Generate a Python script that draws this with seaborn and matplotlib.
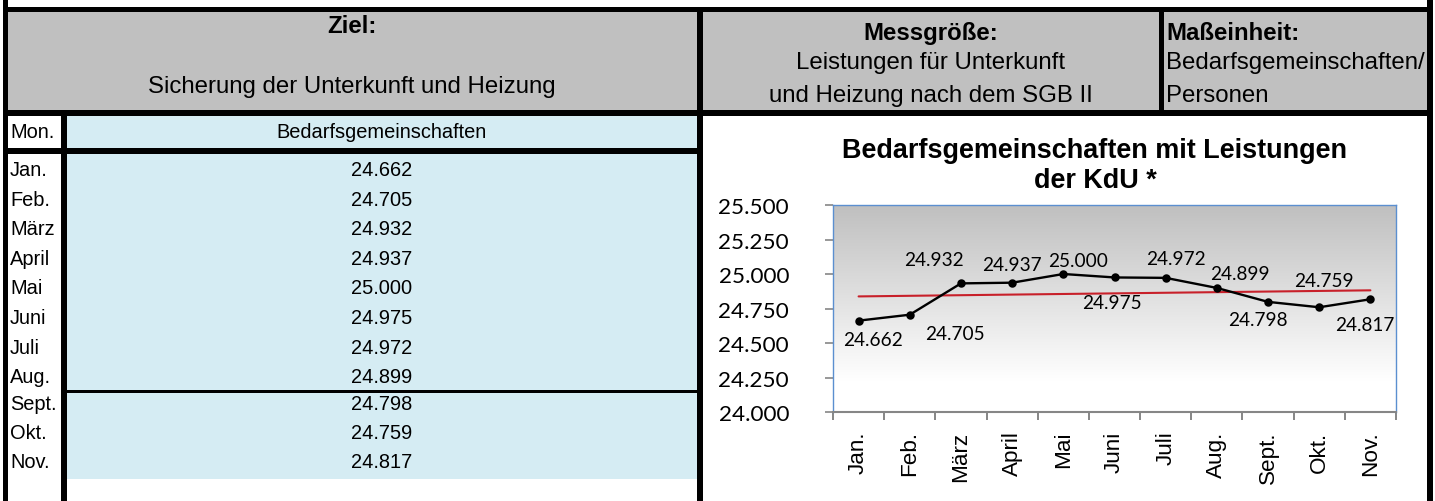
import numpy as np
import pandas as pd
import matplotlib
matplotlib.use("Agg")
import matplotlib.pyplot as plt
from matplotlib.patches import Rectangle
from matplotlib.ticker import FuncFormatter
import seaborn as sns

# --- data -------------------------------------------------------------------
months = ["Jan.", "Feb.", "März", "April", "Mai", "Juni", "Juli", "Aug.", "Sept.", "Okt.", "Nov."]
values = [24662, 24705, 24932, 24937, 25000, 24975, 24972, 24899, 24798, 24759, 24817]
y_ticks = [24000, 24250, 24500, 24750, 25000, 25250, 25500]

goal_title = "Ziel:"
goal_text = "Sicherung der Unterkunft und Heizung"
measure_title = "Messgröße:"
measure_text = ["Leistungen für Unterkunft", "und Heizung nach dem SGB II"]
unit_title = "Maßeinheit:"
unit_text = ["Bedarfsgemeinschaften/", "Personen"]
col_month = "Mon."
col_value = "Bedarfsgemeinschaften"
chart_title = "Bedarfsgemeinschaften mit Leistungen\nder KdU *"

# data label offsets in pixels (dx right, dy up)
label_offsets = [(14, -19), (45, -19), (-27, 24), (0, 18), (15, 14), (-3, -25),
                 (10, 19), (23, 14), (-10, -18), (5, 27), (-6, -25)]

sns.set_style("white")
plt.rcParams["font.family"] = ["Liberation Sans", "DejaVu Sans"]
plt.rcParams["text.color"] = "black"
plt.rcParams["xtick.labelcolor"] = "black"
plt.rcParams["ytick.labelcolor"] = "black"

W, H = 1435, 502
PT = 0.72  # pixels -> points at dpi 100
GRAY = "#C0C0C0"
BLUE = "#D5ECF3"


def de(v):
    return f"{v:,.0f}".replace(",", ".")


fig = plt.figure(figsize=(W / 100, H / 100), dpi=100)

# --- sheet layout (pixel coordinates) ---------------------------------------
bg = fig.add_axes([0, 0, 1, 1])
bg.set_xlim(0, W)
bg.set_ylim(H, 0)
bg.axis("off")


def box(x0, y0, x1, y1, color):
    bg.add_patch(Rectangle((x0, y0), x1 - x0, y1 - y0, color=color, lw=0))


box(8, 13, 1427, 111, GRAY)
box(67, 116, 697, 480, BLUE)

for x0, y0, x1, y1 in [(3, 0, 8, H), (1427, 0, 1433, H), (3, 8, 1433, 13),
                       (3, 110.7, 1433, 116.7), (697, 8, 703, H), (1159, 8, 1164, 116),
                       (61, 116, 67, H), (3, 149, 697, 155), (61, 391, 697, 394)]:
    box(x0, y0, x1, y1, "black")

hdr = 24 * PT
bg.text(352, 33, goal_title, ha="center", va="baseline", fontsize=hdr, fontweight="bold")
bg.text(352, 93, goal_text, ha="center", va="baseline", fontsize=hdr)
bg.text(931, 40, measure_title, ha="center", va="baseline", fontsize=hdr, fontweight="bold")
bg.text(931, 69, measure_text[0], ha="center", va="baseline", fontsize=hdr)
bg.text(931, 102, measure_text[1], ha="center", va="baseline", fontsize=hdr)
bg.text(1166, 40, unit_title, ha="left", va="baseline", fontsize=hdr, fontweight="bold")
bg.text(1166, 69, unit_text[0], ha="left", va="baseline", fontsize=hdr)
bg.text(1166, 102, unit_text[1], ha="left", va="baseline", fontsize=hdr)

tbl = 20 * PT
bg.text(10, 138, col_month, ha="left", va="baseline", fontsize=tbl)
bg.text(382, 138, col_value, ha="center", va="baseline", fontsize=tbl)
for i, (m, v) in enumerate(zip(months, values)):
    yb = 176 + i * 29.6 if i < 8 else 410 + (i - 8) * 29
    bg.text(10, yb, m, ha="left", va="baseline", fontsize=tbl)
    bg.text(382, yb, de(v), ha="center", va="baseline", fontsize=tbl)

for k, line in enumerate(chart_title.split("\n")):
    bg.text(1095, 158 + 30 * k, line, ha="center", va="baseline", fontsize=27 * PT,
            fontweight="bold")

# --- chart ------------------------------------------------------------------
ax = fig.add_axes([833 / W, (H - 413) / H, 563 / W, 207 / H])
ax.set_facecolor("none")

t = np.linspace(0, 1, 256)
shade = 1 - 0.25 * np.clip((t - 0.15) / 0.85, 0, 1)
grad = np.repeat(shade[:, None, None], 3, axis=2)
ax.imshow(grad, extent=[0, 1, 0, 1], transform=ax.transAxes, origin="lower",
          aspect="auto", zorder=0)

df = pd.DataFrame({"Monat": months, "BG": values})
sns.pointplot(data=df, x="Monat", y="BG", color="black", markers="o", errorbar=None,
              markersize=4.8, linewidth=1.7, ax=ax, zorder=3)
sns.regplot(x=np.arange(len(values)), y=np.array(values), scatter=False, ci=None,
            truncate=True, color="#C8202A", line_kws=dict(lw=1.5, zorder=2), ax=ax)

lato = dict(family=["Lato", "DejaVu Sans"])
for i, (v, (dx, dy)) in enumerate(zip(values, label_offsets)):
    ax.annotate(de(v), (i, v), xytext=(dx * PT, dy * PT), textcoords="offset points",
                ha="center", va="center", fontsize=19 * PT, color="black", **lato)

ax.set_xlim(-0.5, len(months) - 0.5)
ax.set_ylim(y_ticks[0], y_ticks[-1])
ax.set_yticks(y_ticks)
ax.yaxis.set_major_formatter(FuncFormatter(lambda v, p: de(v)))
ax.set_xticks(range(len(months)))
ax.set_xticklabels(months, rotation=90)
ax.set_xticks(np.arange(len(months) + 1) - 0.5, minor=True)
ax.set_xlabel("")
ax.set_ylabel("")

ax.tick_params(axis="x", which="major", length=0, pad=18.5 * PT, labelsize=22.5 * PT,
               labelcolor="black")
ax.tick_params(axis="x", which="minor", length=8 * PT, width=1.4, color="#868686",
               direction="out", bottom=True)
ax.tick_params(axis="y", length=8 * PT, width=1.2, color="#868686", direction="out",
               left=True, pad=36 * PT, labelsize=22.5 * PT, labelcolor="black")
for lab in ax.get_yticklabels():
    lab.set_family(["Lato", "DejaVu Sans"])

for side in ["top", "right", "left"]:
    ax.spines[side].set_color("#5B8FD0")
    ax.spines[side].set_linewidth(1.0)
ax.spines["bottom"].set_color("#868686")
ax.spines["bottom"].set_linewidth(1.5)

fig.savefig("out.png", dpi=100)
